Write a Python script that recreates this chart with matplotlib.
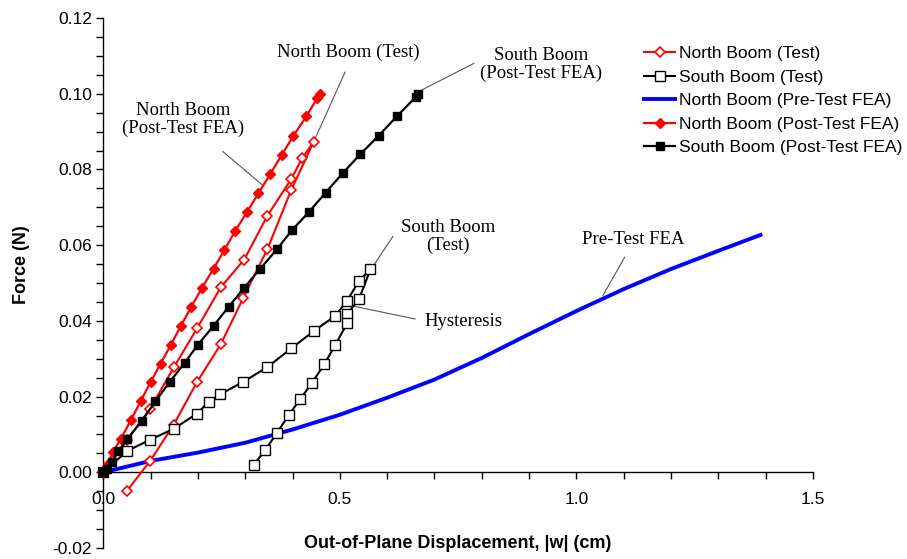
import matplotlib
matplotlib.use("Agg")
import matplotlib.pyplot as plt
from matplotlib.ticker import MultipleLocator, FormatStrFormatter

plt.rcParams['font.family'] = ['Liberation Sans', 'DejaVu Sans']

# ---------------- data ----------------
# North Boom (Test): loading branch then unloading branch
north_test_x = [0.0, 0.050, 0.099, 0.149, 0.199, 0.249, 0.298, 0.347, 0.397, 0.420, 0.4445,
                0.397, 0.347, 0.296, 0.249, 0.198, 0.149, 0.099, 0.050]
north_test_y = [0.0, 0.0085, 0.0168, 0.0277, 0.0382, 0.0490, 0.0562, 0.0678, 0.0774, 0.0829, 0.0873,
                0.0745, 0.0590, 0.0461, 0.0340, 0.0238, 0.0126, 0.0030, -0.0049]

# South Boom (Test): loading branch then unloading branch
south_test_x = [0.0, 0.050, 0.099, 0.149, 0.198, 0.223, 0.247, 0.296, 0.347, 0.397, 0.446, 0.490,
                0.515, 0.541, 0.5645,
                0.541, 0.516, 0.516, 0.490, 0.467, 0.441, 0.416, 0.392, 0.367, 0.342, 0.318]
south_test_y = [0.0, 0.0056, 0.0086, 0.0115, 0.0155, 0.0186, 0.0206, 0.0239, 0.0278, 0.0327, 0.0374, 0.0413,
                0.0453, 0.0506, 0.0536,
                0.0459, 0.0418, 0.0395, 0.0336, 0.0285, 0.0236, 0.0193, 0.0151, 0.0104, 0.0058, 0.0020]

# North Boom (Pre-Test FEA)
pre_fea_x = [0.0, 0.1, 0.2, 0.3, 0.4, 0.5, 0.6, 0.7, 0.8, 0.9, 1.0, 1.1, 1.2, 1.3, 1.389]
pre_fea_y = [0.0, 0.0030, 0.0052, 0.0078, 0.0113, 0.0152, 0.0197, 0.0245, 0.0302, 0.0365,
             0.0426, 0.0484, 0.0537, 0.0585, 0.0627]

# North Boom (Post-Test FEA)
north_post_x = [0.0, 0.009, 0.020, 0.037, 0.058, 0.079, 0.100, 0.121, 0.143, 0.164, 0.186, 0.209,
                0.233, 0.256, 0.279, 0.304, 0.328, 0.353, 0.377, 0.402, 0.429, 0.452, 0.457]
north_post_y = [0.0, 0.0022, 0.0053, 0.0088, 0.0137, 0.0188, 0.0238, 0.0287, 0.0337, 0.0387, 0.0437, 0.0488,
                0.0538, 0.0587, 0.0638, 0.0688, 0.0737, 0.0788, 0.0838, 0.0889, 0.0940, 0.0988, 0.0998]

# South Boom (Post-Test FEA)
south_post_x = [0.0, 0.008, 0.018, 0.032, 0.050, 0.081, 0.110, 0.140, 0.172, 0.200, 0.233, 0.265,
                0.298, 0.332, 0.367, 0.399, 0.435, 0.470, 0.506, 0.543, 0.582, 0.621, 0.661, 0.666]
south_post_y = [0.0, 0.0010, 0.0027, 0.0055, 0.0087, 0.0135, 0.0187, 0.0238, 0.0289, 0.0337, 0.0387, 0.0437,
                0.0488, 0.0538, 0.0589, 0.0640, 0.0688, 0.0739, 0.0790, 0.0840, 0.0889, 0.0941, 0.0992, 0.1000]

legend_labels = ["North Boom (Test)", "South Boom (Test)", "North Boom (Pre-Test FEA)",
                 "North Boom (Post-Test FEA)", "South Boom (Post-Test FEA)"]

# ---------------- figure ----------------
W, H = 907, 559
fig = plt.figure(figsize=(W / 100, H / 100), dpi=100)
ax = fig.add_axes([103.3 / W, 1 - 548 / H, (813 - 103.3) / W, 530 / H])
ax.set_xlim(0, 1.5)
ax.set_ylim(-0.02, 0.12)

l_pre, = ax.plot(pre_fea_x, pre_fea_y, color='#0000ff', lw=2.8, zorder=2)
l_nt, = ax.plot(north_test_x, north_test_y, color='#ff0000', lw=1.5, marker='D', ms=4.6,
                mfc='white', mec='#ff0000', mew=1.2, zorder=3)
l_st, = ax.plot(south_test_x, south_test_y, color='black', lw=1.5, marker='s', ms=6.5,
                mfc='white', mec='black', mew=1.0, zorder=4)
l_np, = ax.plot(north_post_x, north_post_y, color='#ff0000', lw=1.6, marker='D', ms=4.8,
                mfc='#ff0000', mec='#ff0000', zorder=5)
l_sp, = ax.plot(south_post_x, south_post_y, color='black', lw=1.6, marker='s', ms=6.2,
                mfc='black', mec='black', zorder=6)

for l in ax.get_lines():
    l.set_clip_on(False)

# spines / ticks
ax.spines['top'].set_visible(False)
ax.spines['right'].set_visible(False)
ax.spines['bottom'].set_position(('data', 0))
for s in ('left', 'bottom'):
    ax.spines[s].set_linewidth(1.0)
ax.xaxis.set_major_locator(MultipleLocator(0.5))
ax.xaxis.set_minor_locator(MultipleLocator(0.1))
ax.yaxis.set_major_locator(MultipleLocator(0.02))
ax.yaxis.set_minor_locator(MultipleLocator(0.005))
ax.xaxis.set_major_formatter(FormatStrFormatter('%.1f'))
ax.yaxis.set_major_formatter(FormatStrFormatter('%.2f'))
ax.tick_params(axis='both', which='both', direction='out', length=5, width=1, labelsize=12.5)
ax.tick_params(axis='x', which='major', pad=9)
ax.tick_params(axis='y', which='major', pad=3)

# axis labels
fig.text(22 / W, 1 - 265 / H, 'Force (N)', rotation=90, ha='center', va='center',
         fontsize=13, fontweight='bold')
fig.text(458 / W, 1 - 543 / H, 'Out-of-Plane Displacement, |w| (cm)', ha='center', va='center',
         fontsize=13, fontweight='bold')

# legend
fig.legend([l_nt, l_st, l_pre, l_np, l_sp], legend_labels, loc='upper left',
           bbox_to_anchor=(644 / W, 1 - 46 / H), frameon=False, borderpad=0, borderaxespad=0,
           handlelength=1.8, handletextpad=0.2, labelspacing=0.48, numpoints=1, fontsize=12.5)

# annotations
serif = ['Liberation Serif', 'DejaVu Serif']
lead = dict(color='#555555', lw=0.8, zorder=1)
ax.text(0.169, 0.0931, 'North Boom\n(Post-Test FEA)', ha='center', va='center', fontsize=13.5,
        family=serif, linespacing=1.05)
ax.plot([0.253, 0.337], [0.0847, 0.0758], **lead)

ax.text(0.517, 0.1109, 'North Boom (Test)', ha='center', va='center', fontsize=13.5, family=serif)
ax.plot([0.511, 0.449], [0.1057, 0.0885], **lead)

ax.text(0.925, 0.1076, 'South Boom\n(Post-Test FEA)', ha='center', va='center', fontsize=13.5,
        family=serif, linespacing=1.05)
ax.plot([0.783, 0.675], [0.1080, 0.1011], **lead)

ax.text(0.728, 0.0622, 'South Boom\n(Test)', ha='center', va='center', fontsize=13.5,
        family=serif, linespacing=1.05)
ax.plot([0.612, 0.570], [0.0623, 0.0544], **lead)

ax.text(0.762, 0.0399, 'Hysteresis', ha='center', va='center', fontsize=13.5, family=serif)
ax.plot([0.659, 0.528], [0.0405, 0.0439], **lead)

ax.text(1.121, 0.0615, 'Pre-Test FEA', ha='center', va='center', fontsize=13.5, family=serif)
ax.plot([1.102, 1.056], [0.0568, 0.0467], **lead)

fig.savefig('out.png', dpi=100)
